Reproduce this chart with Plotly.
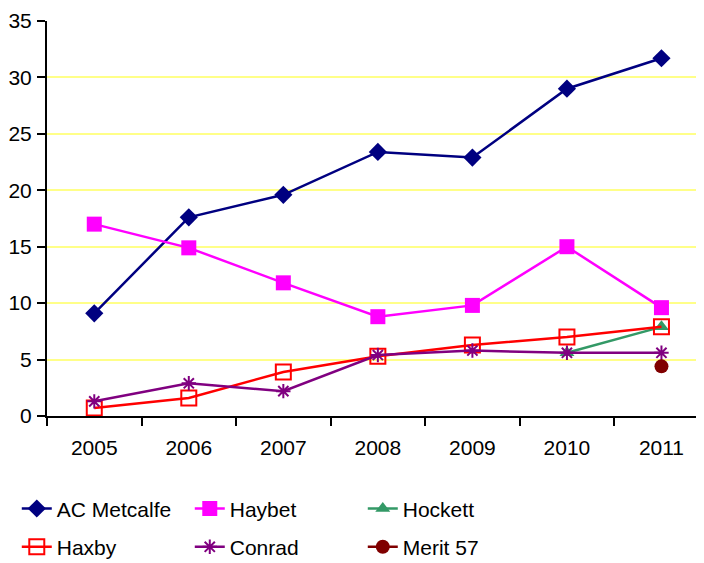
import plotly.graph_objects as go

years = ["2005", "2006", "2007", "2008", "2009", "2010", "2011"]
ac_metcalfe = [9.1, 17.6, 19.6, 23.4, 22.9, 29.0, 31.7]
haybet = [17.0, 14.9, 11.8, 8.8, 9.8, 15.0, 9.6]
hockett = [None, None, None, None, None, 5.6, 7.9]
haxby = [0.7, 1.6, 3.9, 5.3, 6.3, 7.0, 7.9]
conrad = [1.3, 2.9, 2.2, 5.4, 5.8, 5.6, 5.6]
merit57 = [None, None, None, None, None, None, 4.4]

FONT = "Liberation Sans, Arial, sans-serif"

fig = go.Figure()

series = [
    ("AC Metcalfe", ac_metcalfe, "#000080", dict(symbol="diamond", size=14), "legend"),
    ("Haybet", haybet, "#FF00FF", dict(symbol="square", size=15), "legend"),
    ("Hockett", hockett, "#339966", dict(symbol="triangle-up", size=13), "legend"),
    ("Haxby", haxby, "#FF0000", dict(symbol="square-open", size=15, line=dict(width=2)), "legend2"),
    ("Conrad", conrad, "#800080", dict(symbol="asterisk-open", size=12, line=dict(width=2, color="#800080")), "legend2"),
    ("Merit 57", merit57, "#800000", dict(symbol="circle", size=14), "legend2"),
]

for name, vals, color, marker, lg in series:
    fig.add_trace(go.Scatter(
        x=years, y=vals, name=name, mode="lines+markers",
        line=dict(color=color, width=2.5),
        marker=dict(color=color, **marker),
        legend=lg,
    ))

leg_common = dict(
    orientation="h", xanchor="left", yanchor="middle",
    font=dict(family=FONT, size=21, color="black"),
    entrywidth=128, bgcolor="rgba(0,0,0,0)", itemclick=False,
)

# The page body has an 8px default margin, so the figure is sized to fit the window.
fig.update_layout(
    width=696, height=555,
    margin=dict(l=39, r=0, t=13, b=147, autoexpand=False),
    paper_bgcolor="white", plot_bgcolor="white",
    font=dict(family=FONT, size=21, color="black"),
    showlegend=True,
    legend=dict(x=-0.046, y=-0.235, **leg_common),
    legend2=dict(x=-0.046, y=-0.332, **leg_common),
    xaxis=dict(
        type="category", range=[-0.5, 6.45],
        showline=True, linecolor="black", linewidth=2,
        ticks="outside", ticklen=8, tickwidth=2, tickcolor="black",
        tickson="boundaries", showgrid=False, automargin=False,
        ticklabelstandoff=12,
        tickfont=dict(family=FONT, size=21),
    ),
    yaxis=dict(
        range=[0, 35], dtick=5,
        showline=True, linecolor="black", linewidth=2,
        ticks="outside", ticklen=8, tickwidth=2, tickcolor="black",
        showgrid=True, gridcolor="#FFFF88", gridwidth=2,
        zeroline=False, automargin=False,
        ticklabelstandoff=1,
        tickfont=dict(family=FONT, size=21),
    ),
)

fig.write_html("out.html")
